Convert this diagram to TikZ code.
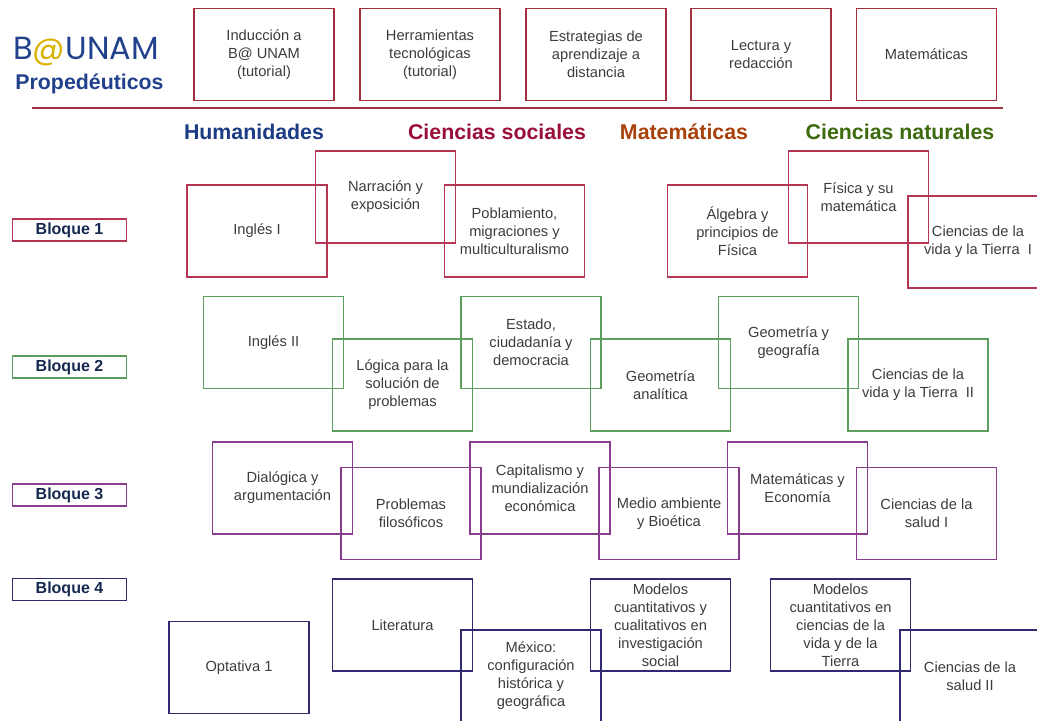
\documentclass[tikz,border=0pt]{standalone}
\usepackage{fontspec}
\setmainfont{Liberation Sans}
\newfontfamily\logofont{Poppins}
\usetikzlibrary{positioning}
\definecolor{toprojo}{HTML}{A3303F}
\definecolor{rojo}{HTML}{B53552}
\definecolor{verde}{HTML}{5C9E5C}
\definecolor{morado}{HTML}{8A3C8E}
\definecolor{marino}{HTML}{302A70}
\definecolor{texto}{HTML}{3C3C3C}
\definecolor{logoazul}{HTML}{22418C}
\definecolor{oro}{HTML}{D9B200}
\definecolor{humazul}{HTML}{1B3C85}
\definecolor{socrojo}{HTML}{9A0F3A}
\definecolor{matnaranja}{HTML}{A8420A}
\definecolor{natverde}{HTML}{3D6B0E}
\definecolor{bloqtexto}{HTML}{152850}
\tikzset{
  materia/.style={draw, line width=0.9pt, minimum width=105pt, minimum height=69pt,
    inner sep=2pt, align=center, text=texto, font=\fontsize{11}{13.5}\selectfont},
  prope/.style={materia, draw=toprojo},
  uno/.style={materia, draw=rojo},
  dos/.style={materia, draw=verde},
  tres/.style={materia, draw=morado},
  cuatro/.style={materia, draw=marino},
  area/.style={font=\fontsize{16}{18}\selectfont\bfseries},
  bloque/.style={draw, line width=0.9pt, minimum width=86pt, minimum height=16.5pt,
    inner sep=0pt, text=bloqtexto, font=\fontsize{12}{14}\selectfont\bfseries}
}
\begin{document}
\begin{tikzpicture}[x=0.75pt,y=-0.75pt]
\useasboundingbox (0,0) rectangle (1037,720);
\clip (0,0) rectangle (1037,720);

\node[text=logoazul, font=\logofont\fontsize{24}{26}\selectfont] (logo) at (86,52) {B\textcolor{oro}{@}UNAM};
\node[text=logoazul, font=\fontsize{16}{18}\selectfont\bfseries] (prop) at (89.5,84) {Propedéuticos};

\node[prope] (induc) at (264,54.5) {Inducción a\\B@ UNAM\\(tutorial)};
\node[prope] (herr) at (430,54.5) {Herramientas\\tecnológicas\\(tutorial)};
\node[prope] (estr) at (596,54.5) {Estrategias de\\aprendizaje a\\distancia};
\node[prope] (lect) at (761,54.5) {Lectura y\\redacción};
\node[prope] (matp) at (926.5,54.5) {Matemáticas};
\coordinate (lineaA) at (32,108);
\coordinate (lineaB) at (1003,108);
\draw[line width=1.1pt, color=toprojo] (lineaA) -- (lineaB);

\node[area, text=humazul] (hum) at (254,132) {Humanidades};
\node[area, text=socrojo] (soc) at (497,132) {Ciencias sociales};
\node[area, text=matnaranja] (mat) at (684,132) {Matemáticas};
\node[area, text=natverde] (nat) at (900,132) {Ciencias naturales};

\node[bloque, draw=rojo] (bq1) at (69.5,230) {Bloque 1};
\node[bloque, draw=verde] (bq2) at (69.5,367) {Bloque 2};
\node[bloque, draw=morado] (bq3) at (69.5,495) {Bloque 3};
\node[bloque, draw=marino] (bq4) at (69.5,589.5) {Bloque 4};

\node[uno] (ingA) at (257,231) {Inglés I};
\node[uno] (narr) at (385.5,197) {Narración y\\exposición};
\node[uno] (pobl) at (514.5,231) {Poblamiento,\\migraciones y\\multiculturalismo};
\node[uno] (alg) at (737.5,231) {Álgebra y\\principios de\\Física};
\node[uno] (fis) at (858.5,197) {Física y su\\matemática};
\node[uno] (cvA) at (978,242) {Ciencias de la\\vida y la Tierra~~I};

\node[dos] (ingB) at (273.5,342.5) {Inglés II};
\node[dos] (log) at (402.5,385) {Lógica para la\\solución de\\problemas};
\node[dos] (est) at (531,342.5) {Estado,\\ciudadanía y\\democracia};
\node[dos] (geoan) at (660.5,385) {Geometría\\analítica};
\node[dos] (geogeo) at (788.5,342.5) {Geometría y\\geografía};
\node[dos] (cvB) at (918,385) {Ciencias de la\\vida y la Tierra~~II};

\node[tres] (dial) at (282.5,488) {Dialógica y\\argumentación};
\node[tres] (probl) at (411,513.5) {Problemas\\filosóficos};
\node[tres] (capit) at (540,488) {Capitalismo y\\mundialización\\económica};
\node[tres] (medio) at (669,513.5) {Medio ambiente\\y Bioética};
\node[tres] (matec) at (797.5,488) {Matemáticas y\\Economía};
\node[tres] (saludA) at (926.5,513.5) {Ciencias de la\\salud I};

\node[cuatro] (opt) at (239,667.5) {Optativa 1};
\node[cuatro] (lit) at (402.5,625) {Literatura};
\node[cuatro] (mex) at (531,676) {México:\\configuración\\histórica y\\geográfica};
\node[cuatro] (modsoc) at (660.5,625) {Modelos\\cuantitativos y\\cualitativos en\\investigación\\social};
\node[cuatro] (modvid) at (840.5,625) {Modelos\\cuantitativos en\\ciencias de la\\vida y de la\\Tierra};
\node[cuatro] (saludB) at (970,676) {Ciencias de la\\salud II};
\end{tikzpicture}
\end{document}
